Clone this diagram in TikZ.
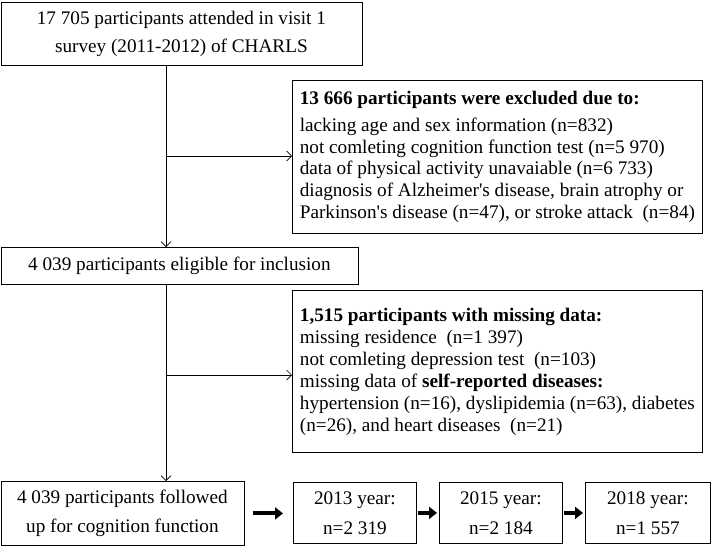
\documentclass[tikz,border=0pt]{standalone}
\usepackage{fontspec}
\setmainfont{Liberation Serif}
\usetikzlibrary{arrows.meta}

\tikzset{
  box/.style={draw, line width=0.8pt, rectangle, anchor=north west, inner sep=0pt,
    align=center, font=\fontsize{19.2}{21.8}\selectfont},
  listbox/.style={box, align=left, inner xsep=7pt, minimum width=410pt},
  flow/.style={-{Straight Barb[length=5pt,width=10pt]}, line width=0.7pt},
  fat/.style={-{Triangle[length=8pt,width=12pt]}, line width=4pt}
}

\begin{document}
\begin{tikzpicture}[x=1pt, y=-1pt]
  \useasboundingbox (0,0) rectangle (712,546);
  % Main column
  \node[box, minimum width=361pt, minimum height=63pt] (visit) at (0.5,2)
    {17 705 participants attended in visit 1\\[7pt] survey (2011-2012) of CHARLS};
  \node[box, minimum width=357pt, minimum height=37pt] (eligible) at (0.5,247)
    {4 039 participants eligible for inclusion};
  \node[box, minimum width=243pt, minimum height=64pt] (followed) at (0.5,481)
    {4 039 participants followed\\[8pt] up for cognition function};
  % Exclusion boxes
  \node[listbox, minimum height=153pt] (excluded) at (292,80)
    {\textbf{13 666 participants were excluded due to:}\\[5pt]
     lacking age and sex information (n=832)\\
     not comleting cognition function test (n=5 970)\\
     data of physical activity unavaiable (n=6 733)\\
     diagnosis of Alzheimer\textquotesingle s disease, brain atrophy or\\
     Parkinson\textquotesingle s disease (n=47), or stroke attack~ (n=84)};
  \node[listbox, minimum height=162pt] (missing) at (292,290)
    {\textbf{1,515 participants with missing data:}\\[1pt]
     missing residence~ (n=1 397)\\
     not comleting depression test~ (n=103)\\
     missing data of \textbf{self-reported diseases:}\\
     hypertension (n=16), dyslipidemia (n=63), diabetes\\
     (n=26), and heart diseases~ (n=21)};
  % Follow-up waves
  \node[box, minimum width=123pt, minimum height=61pt] (wave1) at (293,482)
    {2013 year:\\[8pt] n=2 319};
  \node[box, minimum width=123pt, minimum height=61pt] (wave2) at (439,482)
    {2015 year:\\[8pt] n=2 184};
  \node[box, minimum width=125pt, minimum height=61pt] (wave3) at (585,482)
    {2018 year:\\[8pt] n=1 557};
  % Branch points
  \coordinate (split1) at (166,156);
  \coordinate (split2) at (166,375);
  % Connectors
  \draw[flow] (visit.south -| split1) -- (eligible.north -| split1);
  \draw[flow] (split1) -- (excluded.west |- split1);
  \draw[flow] (eligible.south -| split2) -- (followed.north -| split2);
  \draw[flow] (split2) -- (missing.west |- split2);
  \draw[fat, shorten <=9pt, shorten >=10pt] (followed.east) -- (wave1.west |- followed.east);
  \draw[fat, shorten <=1pt, shorten >=2pt] (wave1.east) -- (wave2.west);
  \draw[fat, shorten <=1pt, shorten >=2pt] (wave2.east) -- (wave3.west);
\end{tikzpicture}
\end{document}
